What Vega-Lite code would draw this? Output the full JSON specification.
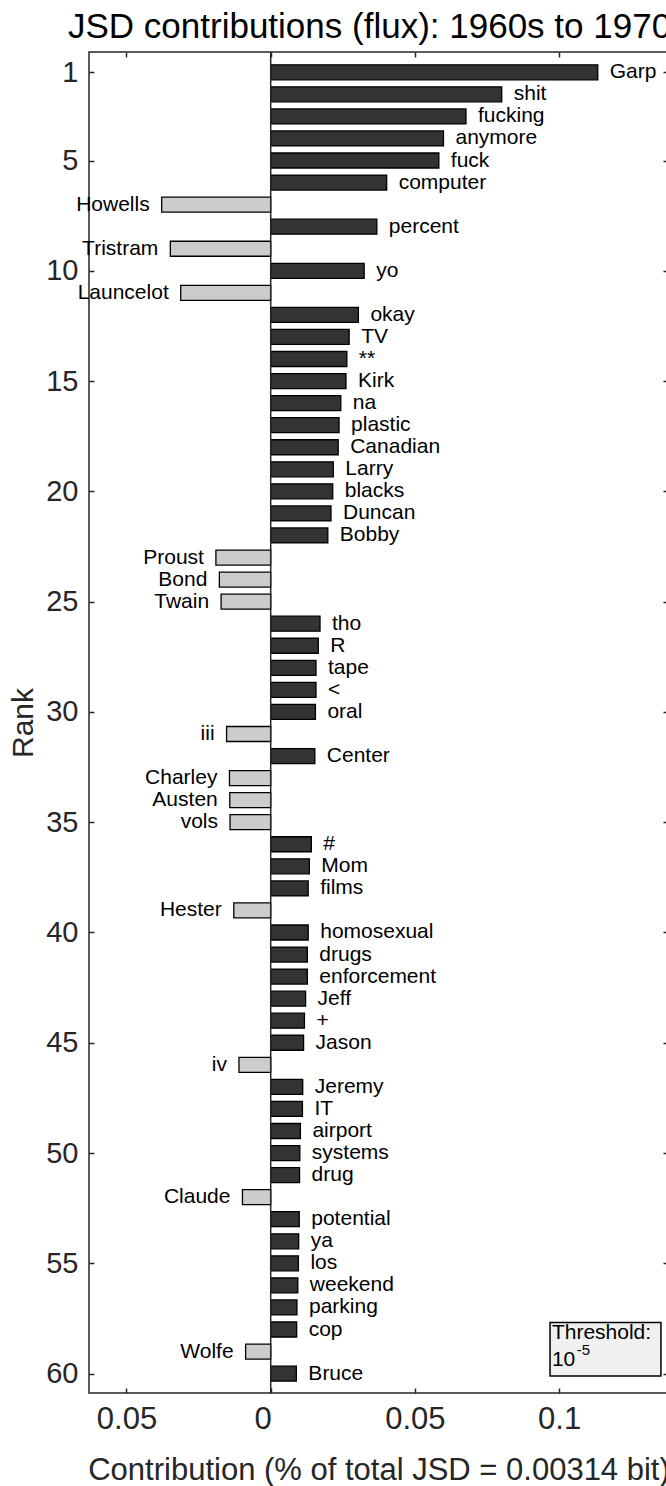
{
  "$schema": "https://vega.github.io/schema/vega-lite/v6.json",
  "width": 579,
  "height": 1341,
  "autosize": {"type": "none"},
  "padding": {"left": 89, "top": 52, "right": 0, "bottom": 93},
  "title": {
    "text": "JSD contributions (flux): 1960s to 1970s",
    "anchor": "start",
    "frame": "group",
    "dx": -21,
    "dy": 37,
    "offset": 15,
    "baseline": "alphabetic",
    "fontSize": 35,
    "font": "Liberation Sans",
    "fontWeight": "normal",
    "color": "#000000"
  },
  "config": {
    "font": "Liberation Sans",
    "view": {"stroke": "#262626", "strokeWidth": 1.5},
    "axis": {
      "labelFont": "Liberation Sans",
      "titleFont": "Liberation Sans",
      "labelColor": "#262626",
      "titleColor": "#262626",
      "tickColor": "#262626",
      "tickWidth": 1.5,
      "domain": false,
      "grid": false,
      "titleFontWeight": "normal",
      "labelOverlap": false,
      "labelFlush": false
    }
  },
  "data": {
    "values": [
      {"rank": 1, "word": "Garp", "value": 0.1134},
      {"rank": 2, "word": "shit", "value": 0.0801},
      {"rank": 3, "word": "fucking", "value": 0.0677},
      {"rank": 4, "word": "anymore", "value": 0.0599},
      {"rank": 5, "word": "fuck", "value": 0.0583},
      {"rank": 6, "word": "computer", "value": 0.0402},
      {"rank": 7, "word": "Howells", "value": -0.0378},
      {"rank": 8, "word": "percent", "value": 0.0368},
      {"rank": 9, "word": "Tristram", "value": -0.0348},
      {"rank": 10, "word": "yo", "value": 0.0324},
      {"rank": 11, "word": "Launcelot", "value": -0.0312},
      {"rank": 12, "word": "okay", "value": 0.0304},
      {"rank": 13, "word": "TV", "value": 0.0272},
      {"rank": 14, "word": "**", "value": 0.0264},
      {"rank": 15, "word": "Kirk", "value": 0.0261},
      {"rank": 16, "word": "na", "value": 0.0243},
      {"rank": 17, "word": "plastic", "value": 0.0237},
      {"rank": 18, "word": "Canadian", "value": 0.0234},
      {"rank": 19, "word": "Larry", "value": 0.0217},
      {"rank": 20, "word": "blacks", "value": 0.0215},
      {"rank": 21, "word": "Duncan", "value": 0.0209},
      {"rank": 22, "word": "Bobby", "value": 0.0198},
      {"rank": 23, "word": "Proust", "value": -0.0190},
      {"rank": 24, "word": "Bond", "value": -0.0178},
      {"rank": 25, "word": "Twain", "value": -0.0172},
      {"rank": 26, "word": "tho", "value": 0.0171},
      {"rank": 27, "word": "R", "value": 0.0165},
      {"rank": 28, "word": "tape", "value": 0.0157},
      {"rank": 29, "word": "<", "value": 0.0157},
      {"rank": 30, "word": "oral", "value": 0.0155},
      {"rank": 31, "word": "iii", "value": -0.0153},
      {"rank": 32, "word": "Center", "value": 0.0153},
      {"rank": 33, "word": "Charley", "value": -0.0143},
      {"rank": 34, "word": "Austen", "value": -0.0142},
      {"rank": 35, "word": "vols", "value": -0.0141},
      {"rank": 36, "word": "#", "value": 0.0141},
      {"rank": 37, "word": "Mom", "value": 0.0134},
      {"rank": 38, "word": "films", "value": 0.0130},
      {"rank": 39, "word": "Hester", "value": -0.0128},
      {"rank": 40, "word": "homosexual", "value": 0.0130},
      {"rank": 41, "word": "drugs", "value": 0.0127},
      {"rank": 42, "word": "enforcement", "value": 0.0127},
      {"rank": 43, "word": "Jeff", "value": 0.0121},
      {"rank": 44, "word": "+", "value": 0.0117},
      {"rank": 45, "word": "Jason", "value": 0.0114},
      {"rank": 46, "word": "iv", "value": -0.0110},
      {"rank": 47, "word": "Jeremy", "value": 0.0111},
      {"rank": 48, "word": "IT", "value": 0.0110},
      {"rank": 49, "word": "airport", "value": 0.0103},
      {"rank": 50, "word": "systems", "value": 0.0101},
      {"rank": 51, "word": "drug", "value": 0.0100},
      {"rank": 52, "word": "Claude", "value": -0.0098},
      {"rank": 53, "word": "potential", "value": 0.0099},
      {"rank": 54, "word": "ya", "value": 0.0097},
      {"rank": 55, "word": "los", "value": 0.0096},
      {"rank": 56, "word": "weekend", "value": 0.0094},
      {"rank": 57, "word": "parking", "value": 0.0091},
      {"rank": 58, "word": "cop", "value": 0.0090},
      {"rank": 59, "word": "Wolfe", "value": -0.0087},
      {"rank": 60, "word": "Bruce", "value": 0.0089}
    ]
  },
  "resolve": {"axis": {"x": "independent", "y": "independent"}},
  "layer": [
    {
      "mark": {"type": "bar", "orient": "horizontal", "height": 15, "stroke": "#000000", "strokeWidth": 1.3},
      "encoding": {
        "y": {
          "field": "rank", "type": "quantitative",
          "scale": {"domain": [0.307, 60.652], "reverse": true, "nice": false, "zero": false},
          "axis": {
            "orient": "left",
            "values": [1, 5, 10, 15, 20, 25, 30, 35, 40, 45, 50, 55, 60],
            "title": "Rank",
            "titleFontSize": 30,
            "titlePadding": 7,
            "labelFontSize": 29,
            "labelPadding": 16,
            "tickSize": -5
          }
        },
        "x": {
          "field": "value", "type": "quantitative",
          "scale": {"domain": [-0.063, 0.13775], "nice": false, "zero": false},
          "axis": {
            "orient": "bottom",
            "values": [-0.05, 0, 0.05, 0.1],
            "labelExpr": "datum.value == 0 ? '0' : format(abs(datum.value), '.2~f')",
            "labelOffset": {"condition": {"test": "datum.value == 0", "value": -8}, "value": 0},
            "title": "Contribution (% of total JSD = 0.00314 bit)",
            "titleFontSize": 31,
            "titlePadding": 21,
            "labelFontSize": 31,
            "labelPadding": 16,
            "tickSize": -5
          }
        },
        "fill": {
          "condition": {"test": "datum.value > 0", "value": "#333333"},
          "value": "#cccccc"
        }
      }
    },
    {
      "data": {"values": [{}]},
      "mark": {"type": "rule", "color": "#262626", "strokeWidth": 1.5},
      "encoding": {
        "x": {"datum": 0, "type": "quantitative", "axis": null}
      }
    },
    {
      "transform": [{"filter": "datum.value > 0"}],
      "mark": {"type": "text", "align": "left", "baseline": "middle", "dx": 12, "fontSize": 21, "font": "Liberation Sans", "color": "#000000"},
      "encoding": {
        "y": {
          "field": "rank", "type": "quantitative",
          "axis": {
            "orient": "right",
            "values": [1, 5, 10, 15, 20, 25, 30, 35, 40, 45, 50, 55, 60],
            "labels": false,
            "title": null,
            "tickSize": -5
          }
        },
        "x": {
          "field": "value", "type": "quantitative",
          "axis": {
            "orient": "top",
            "values": [-0.05, 0, 0.05, 0.1],
            "labels": false,
            "title": null,
            "tickSize": -5
          }
        },
        "text": {"field": "word", "type": "nominal"}
      }
    },
    {
      "transform": [{"filter": "datum.value < 0"}],
      "mark": {"type": "text", "align": "right", "baseline": "middle", "dx": -12, "fontSize": 21, "font": "Liberation Sans", "color": "#000000"},
      "encoding": {
        "y": {"field": "rank", "type": "quantitative", "axis": null},
        "x": {"field": "value", "type": "quantitative", "axis": null},
        "text": {"field": "word", "type": "nominal"}
      }
    },
    {
      "data": {"values": [{}]},
      "mark": {"type": "rect", "fill": "#f0f0f0", "stroke": "#000000", "strokeWidth": 1.5},
      "encoding": {
        "x": {"datum": 0.09685, "type": "quantitative", "axis": null},
        "x2": {"datum": 0.1353},
        "y": {"datum": 57.68, "type": "quantitative", "axis": null},
        "y2": {"datum": 60.11}
      }
    },
    {
      "data": {"values": [{}]},
      "mark": {"type": "text", "align": "left", "baseline": "alphabetic", "fontSize": 21, "font": "Liberation Sans", "color": "#000000", "text": "Threshold:"},
      "encoding": {
        "x": {"datum": 0.0975, "type": "quantitative", "axis": null},
        "y": {"datum": 58.44, "type": "quantitative", "axis": null}
      }
    },
    {
      "data": {"values": [{}]},
      "mark": {"type": "text", "align": "left", "baseline": "alphabetic", "fontSize": 21, "font": "Liberation Sans", "color": "#000000", "text": "10"},
      "encoding": {
        "x": {"datum": 0.0975, "type": "quantitative", "axis": null},
        "y": {"datum": 59.66, "type": "quantitative", "axis": null}
      }
    },
    {
      "data": {"values": [{}]},
      "mark": {"type": "text", "align": "left", "baseline": "alphabetic", "fontSize": 15, "font": "Liberation Sans", "color": "#000000", "text": "-5"},
      "encoding": {
        "x": {"datum": 0.1061, "type": "quantitative", "axis": null},
        "y": {"datum": 59.17, "type": "quantitative", "axis": null}
      }
    }
  ]
}
